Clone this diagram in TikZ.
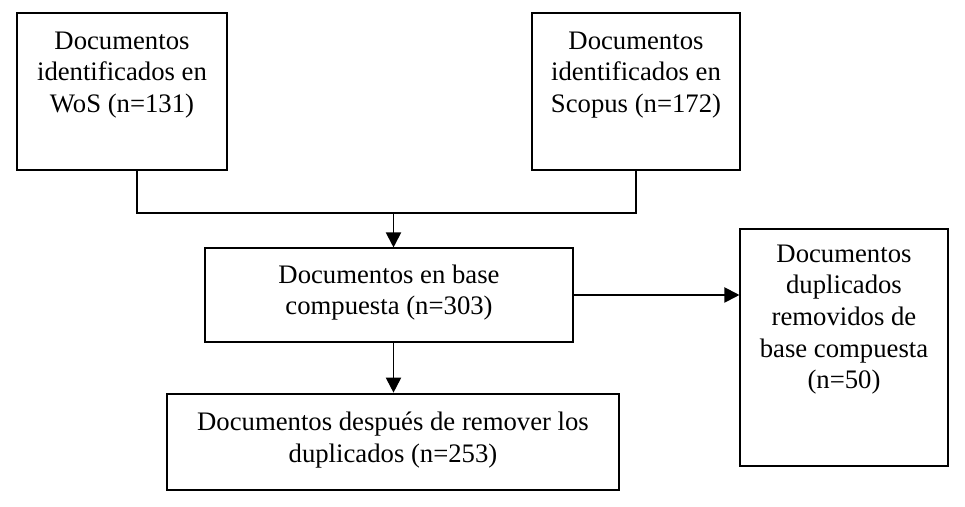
\documentclass[tikz,border=0pt]{standalone}
\usepackage{fontspec}
\setmainfont{Liberation Serif}
\usetikzlibrary{arrows.meta}

\begin{document}
\begin{tikzpicture}[
  caja/.style={draw, line width=0.6pt, inner sep=0pt},
  texto/.style={anchor=north, align=center, inner sep=0pt, font=\fontsize{15.2}{18}\selectfont},
  linea/.style={line width=1.1pt},
  flecha/.style={line width=1.1pt, -{Triangle[length=0.3cm,width=0.3cm]}}
]
\useasboundingbox (0,0) rectangle (19.3,-10.14);

\node[caja, minimum width=4.2cm, minimum height=3.14cm] (wos) at (2.44,-1.83) {};
\node[caja, minimum width=4.16cm, minimum height=3.14cm] (scopus) at (12.72,-1.83) {};
\node[caja, minimum width=7.36cm, minimum height=1.88cm] (compuesta) at (7.78,-5.9) {};
\node[caja, minimum width=4.16cm, minimum height=4.74cm] (duplicados) at (16.88,-6.95) {};
\node[caja, line width=1.5pt, minimum width=9.04cm, minimum height=1.92cm] (final) at (7.86,-8.84) {};

\node[texto] (twos) at ([yshift=-0.38cm]wos.north) {Documentos\\identificados en\\WoS (n=131)};
\node[texto] (tscopus) at ([yshift=-0.38cm]scopus.north) {Documentos\\identificados en\\Scopus (n=172)};
\node[texto] (tcompuesta) at ([yshift=-0.34cm]compuesta.north) {Documentos en base\\compuesta (n=303)};
\node[texto] (tduplicados) at ([yshift=-0.32cm]duplicados.north) {Documentos\\duplicados\\removidos de\\base compuesta\\(n=50)};
\node[texto] (tfinal) at ([yshift=-0.38cm]final.north) {Documentos después de remover los\\duplicados (n=253)};

\coordinate (junta) at (7.87,-4.26);
\draw[linea] ([xshift=0.3cm]wos.south) |- (junta) -| (scopus.south);
\draw[flecha] (junta) -- (junta |- compuesta.north);
\draw[flecha] (compuesta.east) -- (compuesta.east -| duplicados.west);
\draw[flecha] (compuesta.south -| junta) -- (junta |- final.north);

\end{tikzpicture}
\end{document}
